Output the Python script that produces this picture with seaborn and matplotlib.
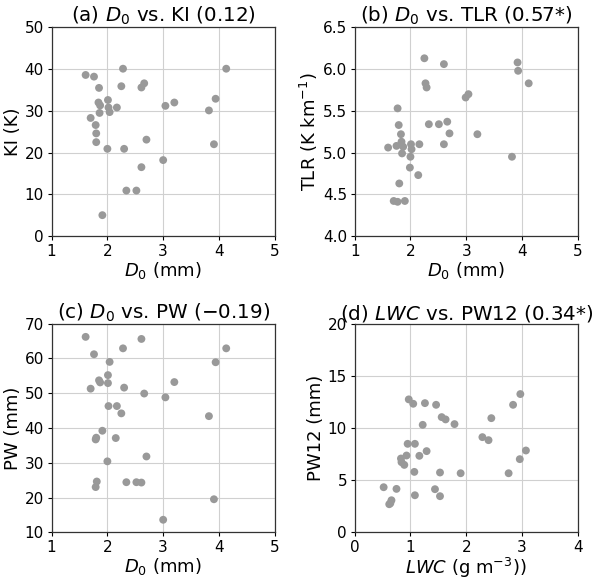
import matplotlib
matplotlib.use('Agg')
import matplotlib.pyplot as plt
import seaborn as sns

# (a) D0 vs KI
d0_a = [1.61, 1.76, 1.85, 2.28, 2.25, 2.61, 2.66, 4.13, 2.01, 1.84, 1.87, 2.02,
        2.17, 2.04, 1.86, 1.70, 1.79, 1.80, 1.80, 2.00, 2.30, 2.70, 3.04, 3.20,
        3.82, 3.94, 3.91, 3.00, 2.61, 2.34, 2.52, 1.91]
ki = [38.6, 38.2, 35.5, 40.1, 35.9, 35.6, 36.6, 40.1, 32.6, 32.0, 31.3, 30.8,
      30.8, 29.7, 29.5, 28.3, 26.6, 24.6, 22.5, 20.9, 20.9, 23.1, 31.2, 32.0,
      30.1, 32.9, 22.0, 18.2, 16.5, 10.9, 10.9, 5.0]

# (b) D0 vs TLR
d0_b = [2.25, 2.60, 3.92, 3.93, 4.12, 2.27, 2.29, 2.99, 3.04, 1.77, 1.79, 2.33,
        2.51, 2.66, 2.70, 3.20, 1.83, 1.84, 1.60, 1.75, 1.87, 2.01, 2.16, 2.02,
        1.85, 2.00, 2.60, 3.82, 1.99, 2.14, 1.80, 1.70, 1.77, 1.90]
tlr = [6.13, 6.06, 6.08, 5.98, 5.83, 5.83, 5.78, 5.66, 5.70, 5.53, 5.33, 5.34,
       5.34, 5.37, 5.23, 5.22, 5.22, 5.13, 5.06, 5.08, 5.07, 5.10, 5.10, 5.04,
       4.99, 4.95, 5.10, 4.95, 4.82, 4.73, 4.63, 4.42, 4.41, 4.42]

# (c) D0 vs PW
d0_c = [1.61, 2.61, 2.28, 4.13, 1.76, 2.04, 3.94, 2.01, 1.85, 1.87, 2.01, 1.70,
        2.30, 3.20, 2.66, 3.04, 2.02, 2.17, 2.25, 3.82, 1.91, 1.80, 1.79, 2.15,
        2.70, 2.00, 1.81, 1.79, 2.34, 2.52, 2.61, 3.91, 3.00]
pw = [66.2, 65.6, 62.9, 62.9, 61.2, 59.0, 58.9, 55.2, 53.7, 53.1, 52.9, 51.3,
      51.6, 53.2, 49.9, 48.8, 46.3, 46.3, 44.2, 43.4, 39.2, 37.2, 36.7, 37.1,
      31.8, 30.4, 24.6, 23.0, 24.4, 24.4, 24.3, 19.5, 13.6]

# (d) LWC vs PW12
lwc = [0.97, 1.05, 1.26, 1.46, 2.97, 2.84, 1.56, 1.63, 2.45, 1.22, 1.79, 2.29,
       2.40, 0.95, 1.08, 0.93, 1.16, 1.29, 0.83, 0.84, 0.89, 3.07, 2.96, 1.07,
       1.53, 1.90, 2.76, 0.52, 0.75, 1.44, 1.08, 1.53, 0.66, 0.62, 0.64]
pw12 = [12.74, 12.32, 12.38, 12.22, 13.25, 12.22, 11.04, 10.82, 10.94, 10.30,
        10.37, 9.12, 8.83, 8.48, 8.48, 7.36, 7.33, 7.78, 7.07, 6.72, 6.46, 7.84,
        7.01, 5.79, 5.73, 5.66, 5.66, 4.32, 4.16, 4.13, 3.55, 3.46, 3.07, 2.69, 2.78]

sns.set_style('whitegrid', {'axes.edgecolor': '#333333', 'grid.color': '#d0d0d0',
                            'xtick.bottom': True, 'ytick.left': True,
                            'text.color': 'black', 'axes.labelcolor': 'black',
                            'xtick.color': 'black', 'ytick.color': 'black'})
plt.rcParams['font.family'] = ['DejaVu Sans']
plt.rcParams['mathtext.fontset'] = 'dejavusans'

fig, axes = plt.subplots(2, 2, figsize=(6, 5.83), dpi=100)
fig.subplots_adjust(left=0.086, right=0.963, top=0.953, bottom=0.087,
                    wspace=0.358, hspace=0.42)

panels = [
    (axes[0, 0], d0_a, ki, r'(a) $D_0$ vs. KI (0.12)', r'$D_0$ (mm)', 'KI (K)',
     (1, 5), (0, 50), [1, 2, 3, 4, 5], [0, 10, 20, 30, 40, 50]),
    (axes[0, 1], d0_b, tlr, r'(b) $D_0$ vs. TLR (0.57*)', r'$D_0$ (mm)',
     r'TLR (K km$^{-1}$)', (1, 5), (4.0, 6.5), [1, 2, 3, 4, 5],
     [4.0, 4.5, 5.0, 5.5, 6.0, 6.5]),
    (axes[1, 0], d0_c, pw, r'(c) $D_0$ vs. PW ($-$0.19)', r'$D_0$ (mm)', 'PW (mm)',
     (1, 5), (10, 70), [1, 2, 3, 4, 5], [10, 20, 30, 40, 50, 60, 70]),
    (axes[1, 1], lwc, pw12, r'(d) $LWC$ vs. PW12 (0.34*)', r'$LWC$ (g m$^{-3}$))',
     'PW12 (mm)', (0, 4), (0, 20), [0, 1, 2, 3, 4], [0, 5, 10, 15, 20]),
]

for ax, x, y, title, xlab, ylab, xlim, ylim, xt, yt in panels:
    sns.scatterplot(x=x, y=y, ax=ax, color='#999999', s=32, edgecolor='none', zorder=3)
    ax.set_xlim(xlim)
    ax.set_ylim(ylim)
    ax.set_xticks(xt)
    ax.set_yticks(yt)
    ax.set_title(title, fontsize=14.3, pad=2)
    ax.set_xlabel(xlab, fontsize=13, labelpad=1)
    ax.set_ylabel(ylab, fontsize=13, labelpad=2)
    ax.tick_params(labelsize=11, length=3, width=0.8, pad=2.5)
    for sp in ax.spines.values():
        sp.set_linewidth(0.9)

fig.savefig('out.png', dpi=100)
